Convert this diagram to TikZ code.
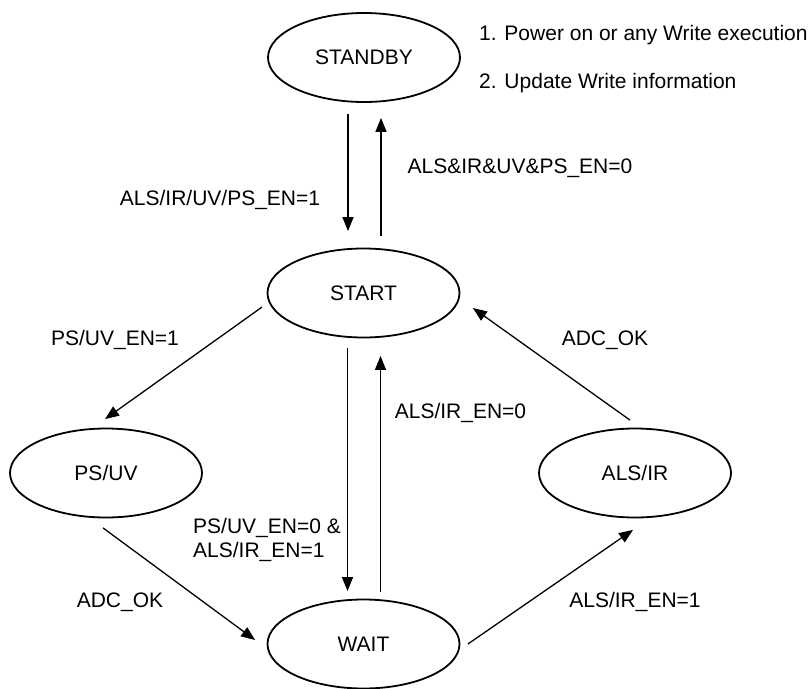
\documentclass[tikz,border=0pt]{standalone}
\usepackage{fontspec}
\setmainfont{Liberation Sans}
\usetikzlibrary{arrows.meta,shapes.geometric}
\tikzset{
  state/.style={draw, ellipse, line width=1.8pt, minimum width=192pt, minimum height=89pt, inner sep=0pt},
  conn/.style={line width=1.3pt, -{Triangle[length=14pt,width=11pt]}},
  lbl/.style={inner sep=0pt},
  every node/.style={font=\fontsize{21}{24}\selectfont}
}
\begin{document}
\begin{tikzpicture}[x=1pt,y=-1pt]
\useasboundingbox (0,0) rectangle (810,688);
\node[state] (standby) at (364,57.5) {STANDBY};
\node[state] (start) at (363.5,293) {START};
\node[state] (psuv) at (106,473) {PS/UV};
\node[state] (alsir) at (635,473) {ALS/IR};
\node[state] (wait) at (363.5,644) {WAIT};

\node[lbl, anchor=west] (note1) at (479,35) {1. Power on or any Write execution};
\node[lbl, anchor=west] (note2) at (479,83) {2. Update Write information};

\node[lbl] (l1) at (220,200) {ALS/IR/UV/PS\_EN=1};
\node[lbl] (l2) at (520,168) {ALS\&IR\&UV\&PS\_EN=0};
\node[lbl] (l3) at (115,340) {PS/UV\_EN=1};
\node[lbl] (l4) at (605,340) {ADC\_OK};
\node[lbl] (l5) at (460.5,413) {ALS/IR\_EN=0};
\node[lbl, anchor=west, align=left] (l6) at (193,540) {PS/UV\_EN=0 \&\\ALS/IR\_EN=1};
\node[lbl] (l7) at (120,602) {ADC\_OK};
\node[lbl] (l8) at (635,602) {ALS/IR\_EN=1};

\draw[conn] ([shift={(-16,11)}]standby.south) -- ([shift={(-15.5,-16.5)}]start.north);
\draw[conn] ([shift={(17.5,-11.5)}]start.north) -- ([shift={(17,15)}]standby.south);
\draw[conn] ([shift={(-16,9.5)}]start.south) -- ([shift={(-16,-7.5)}]wait.north);
\draw[conn] ([shift={(17,-6.5)}]wait.north) -- ([shift={(17,17.5)}]start.south);
\draw[conn] ([shift={(-4.5,14)}]start.west) -- ([shift={(-1,-8.5)}]psuv.north);
\draw[conn] ([shift={(-5,-7.5)}]alsir.north) -- ([shift={(12.5,15)}]start.east);
\draw[conn] ([shift={(-3,9.5)}]psuv.south) -- ([shift={(-11.5,-4)}]wait.west);
\draw[conn] ([shift={(7.5,0)}]wait.east) -- ([shift={(-2,11.5)}]alsir.south);
\end{tikzpicture}
\end{document}
